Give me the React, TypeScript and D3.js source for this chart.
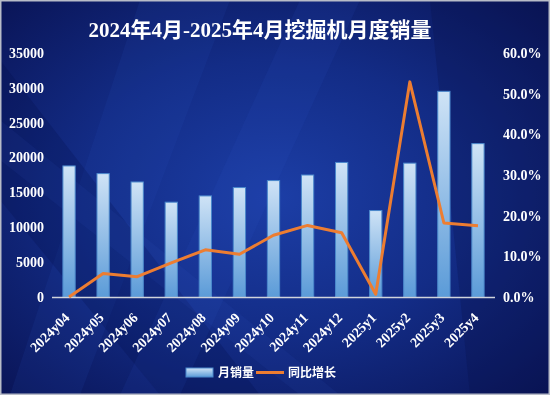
import React from "react";
import * as d3 from "d3";

const categories = ["2024y04","2024y05","2024y06","2024y07","2024y08","2024y09","2024y10","2024y11","2024y12","2025y1","2025y2","2025y3","2025y4"];
const sales = [18800, 17700, 16500, 13600, 14500, 15700, 16700, 17500, 19300, 12400, 19200, 29500, 22000];
const growth = [0.0, 5.8, 5.0, 8.4, 11.6, 10.5, 15.2, 17.6, 15.8, 0.7, 52.9, 18.2, 17.5];
const leftTicks = [0, 5000, 10000, 15000, 20000, 25000, 30000, 35000];
const rightTicks = [0, 10, 20, 30, 40, 50, 60];

const W = 550, H = 395;
const serif = "'Liberation Serif', 'DejaVu Serif', 'Noto Sans CJK SC', serif";

export default function App() {
  const x = d3.scaleBand<string>().domain(categories).range([52, 495]).paddingInner(0.64).paddingOuter(0.32);
  const yL = d3.scaleLinear().domain([0, 35000]).range([297, 53]);
  const yR = d3.scaleLinear().domain([0, 60]).range([297, 53]);
  const line = d3.line<number>()
    .x((_, i) => (x(categories[i]) as number) + x.bandwidth() / 2)
    .y((d) => yR(d));

  return (
    <div style={{ position: "fixed", left: 0, top: 0, width: W, height: H }}>
      <svg width={W} height={H} style={{ display: "block" }}>
        <defs>
          <radialGradient id="bg" cx="0.5" cy="0.5" r="0.7">
            <stop offset="0" stopColor="#1c3ea6" />
            <stop offset="0.5" stopColor="#132c86" />
            <stop offset="1" stopColor="#0a1558" />
          </radialGradient>
          <linearGradient id="bar" x1="0" y1="0" x2="0" y2="1">
            <stop offset="0" stopColor="#cfe3f6" />
            <stop offset="1" stopColor="#5b9bd8" />
          </linearGradient>
          <linearGradient id="leg" x1="0" y1="0" x2="0" y2="1">
            <stop offset="0" stopColor="#cfe3f6" />
            <stop offset="1" stopColor="#5b9bd8" />
          </linearGradient>
        </defs>
        <rect x={0} y={0} width={W} height={H} fill="url(#bg)" />
        <polygon points="140,0 230,0 80,395 10,395" fill="#2a4fc0" opacity={0.12} />
        <polygon points="0,60 0,200 160,395 260,395" fill="#000a40" opacity={0.2} />
        <polygon points="300,0 360,0 180,395 120,395" fill="#2d5ad0" opacity={0.1} />
        <polygon points="0,120 0,160 300,395 340,395" fill="#3a66d8" opacity={0.08} />
        <polygon points="430,0 550,0 550,395 470,395" fill="#061048" opacity={0.25} />
        <rect x={0.75} y={0.75} width={W - 1.5} height={H - 1.5} fill="none" stroke="#b8bcc8" strokeWidth={1.5} />

        <text x={260} y={37} textAnchor="middle" fill="#ffffff" fontFamily={serif} fontWeight="bold" fontSize={21}>
          2024年4月-2025年4月挖掘机月度销量
        </text>

        {leftTicks.map((t) => (
          <text key={"l" + t} x={44} y={yL(t)} dy="0.35em" textAnchor="end" fill="#ffffff" fontFamily={serif} fontWeight="bold" fontSize={14}>
            {t}
          </text>
        ))}
        {rightTicks.map((t) => (
          <text key={"r" + t} x={503} y={yR(t)} dy="0.35em" textAnchor="start" fill="#ffffff" fontFamily={serif} fontWeight="bold" fontSize={14}>
            {t.toFixed(1) + "%"}
          </text>
        ))}

        {sales.map((v, i) => (
          <rect key={"b" + i} x={x(categories[i])} y={yL(v)} width={x.bandwidth()} height={yL(0) - yL(v)}
            fill="url(#bar)" stroke="#4a88cc" strokeWidth={1} />
        ))}

        <line x1={52} x2={495} y1={297.5} y2={297.5} stroke="#d0d4dc" strokeWidth={1.5} />

        <path d={line(growth) as string} fill="none" stroke="#ed7d31" strokeWidth={3} strokeLinejoin="round" />

        {categories.map((c) => {
          const cx = (x(c) as number) + x.bandwidth() / 2 - 2;
          return (
            <text key={"x" + c} transform={`translate(${cx},${315}) rotate(-45)`} textAnchor="end" dy="0.35em"
              fill="#ffffff" fontFamily={serif} fontWeight="bold" fontSize={14}>
              {c}
            </text>
          );
        })}

        <rect x={186} y={368} width={27} height={9} fill="url(#leg)" stroke="#4a88cc" strokeWidth={1} />
        <text x={218} y={372.5} dy="0.35em" fill="#ffffff" fontFamily={serif} fontWeight="bold" fontSize={12}>月销量</text>
        <line x1={256} x2={284} y1={372.5} y2={372.5} stroke="#ed7d31" strokeWidth={3} />
        <text x={288} y={372.5} dy="0.35em" fill="#ffffff" fontFamily={serif} fontWeight="bold" fontSize={12}>同比增长</text>
      </svg>
    </div>
  );
}
